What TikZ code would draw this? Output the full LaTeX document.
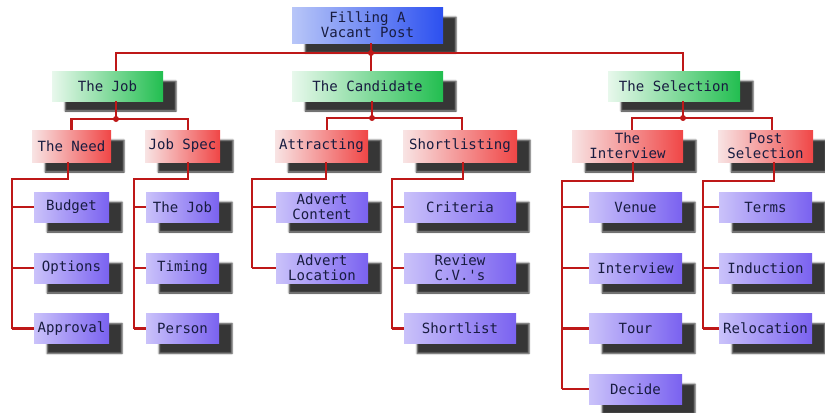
\documentclass[tikz,border=0pt]{standalone}
\usepackage{fontspec}
\setmonofont{DejaVu Sans Mono}
\usetikzlibrary{shadows.blur}

% colours of the boxes and links
\definecolor{rootL}{HTML}{B8C6F8}
\definecolor{rootR}{HTML}{2C50F0}
\definecolor{greenL}{HTML}{E8F8EC}
\definecolor{greenR}{HTML}{22BE50}
\definecolor{redL}{HTML}{F8E4E4}
\definecolor{redR}{HTML}{F04646}
\definecolor{lilacL}{HTML}{CAC2FA}
\definecolor{lilacR}{HTML}{7A62F0}
\definecolor{boxtext}{HTML}{181C40}
\definecolor{linkred}{HTML}{BE1818}

\def\px{0.3mm}   % one pixel of the reference

\tikzset{
  box/.style={rectangle, inner sep=0pt, align=center, text=boxtext,
    font=\ttfamily\fontsize{12}{12.8}\selectfont,
    blur shadow={shadow xshift=13*\px, shadow yshift=-10*\px, shadow blur radius=1.6*\px,
      shadow blur steps=4, shadow blur extra rounding=0pt, shadow opacity=79}},
  rootbox/.style={box, left color=rootL, right color=rootR, minimum height=36*\px},
  topic/.style={box, left color=greenL, right color=greenR, minimum height=30*\px},
  stage/.style={box, left color=redL, right color=redR, minimum height=32*\px},
  task/.style={box, left color=lilacL, right color=lilacR, minimum height=30*\px},
  link/.style={draw=linkred, line width=2.4pt},
  joint/.style={fill=linkred},
}

\begin{document}
\begin{tikzpicture}[x=\px, y=-\px]
\useasboundingbox (0,0) rectangle (825,412);

% Root and the three topics
\node[rootbox, minimum width=151*\px] (root) at (367.5,25) {Filling A\\Vacant Post};
\node[topic, minimum width=111*\px] (job)  at (107.5,86) {The Job};
\node[topic, minimum width=151*\px] (cand) at (367.5,86) {The Candidate};
\node[topic, minimum width=132*\px] (sel)  at (674,86)   {The Selection};

% Stages
\node[stage, minimum width=79*\px]  (need)  at (71.5,146)  {The Need};
\node[stage, minimum width=75*\px]  (spec)  at (182.5,146) {Job Spec};
\node[stage, minimum width=93*\px]  (attr)  at (321.5,146) {Attracting};
\node[stage, minimum width=114*\px] (short) at (460,146)   {Shortlisting};
\node[stage, minimum width=111*\px] (intv)  at (627.5,146) {The\\Interview};
\node[stage, minimum width=95*\px]  (post)  at (765.5,146) {Post\\Selection};

% Tasks
\node[task, minimum width=75*\px] (budget)   at (71.5,207)   {Budget};
\node[task, minimum width=75*\px] (options)  at (71.5,268)   {Options};
\node[task, minimum width=75*\px] (approval) at (71.5,328.5) {Approval};

\node[task, minimum width=73*\px] (jobb)   at (182.5,207)   {The Job};
\node[task, minimum width=73*\px] (timing) at (182.5,268)   {Timing};
\node[task, minimum width=73*\px] (person) at (182.5,328.5) {Person};

\node[task, minimum width=92*\px] (content)  at (322,207) {Advert\\Content};
\node[task, minimum width=92*\px] (location) at (322,268) {Advert\\Location};

\node[task, minimum width=112*\px] (criteria)  at (460,207)   {Criteria};
\node[task, minimum width=112*\px] (review)    at (460,268)   {Review\\C.V.'s};
\node[task, minimum width=112*\px] (shortlist) at (460,328.5) {Shortlist};

\node[task, minimum width=93*\px] (venue)     at (635.5,207)   {Venue};
\node[task, minimum width=93*\px] (interview) at (635.5,268)   {Interview};
\node[task, minimum width=93*\px] (tour)      at (635.5,328.5) {Tour};
\node[task, minimum width=93*\px] (decide)    at (635.5,389)   {Decide};

\node[task, minimum width=93*\px] (terms)      at (765.5,207)   {Terms};
\node[task, minimum width=93*\px] (induction)  at (765.5,268)   {Induction};
\node[task, minimum width=93*\px] (relocation) at (765.5,328.5) {Relocation};

% Junctions of the buses
\coordinate (b0) at (371,53);
\coordinate (b1) at (116,119);
\coordinate (b2) at (372,118);
\coordinate (b3) at (683,118);

% root -> topics
\draw[link] (root.south -| b0) -- (cand.north -| b0);
\draw[link] (job.north -| b1) |- (b0) -| (sel.north -| b3);

% topics -> stages
\draw[link] (job.south -| b1) -- (b1);
\draw[link] (need.north) |- (b1) -| (spec.north -| 188,0);
\draw[link] (cand.south -| b2) -- (b2);
\draw[link] (attr.north -| 327,0) |- (b2) -| (short.north -| 462,0);
\draw[link] (sel.south -| b3) -- (b3);
\draw[link] (intv.north -| 632,0) |- (b3) -| (post.north -| 772,0);

\foreach \j in {b0,b1,b2,b3}
  \fill[joint] (\j) circle (3);

% stages -> tasks
\coordinate (s1) at (12,179);
\coordinate (s2) at (134,179);
\coordinate (s3) at (252,179);
\coordinate (s4) at (392,179);
\coordinate (s5) at (562,181);
\coordinate (s6) at (703,181);

\draw[link] (need.south -| 68,0)   |- (s1) -- (s1 |- approval.west);
\draw[link] (spec.south -| 188,0)  |- (s2) -- (s2 |- person.west);
\draw[link] (attr.south -| 326,0)  |- (s3) -- (s3 |- location.west);
\draw[link] (short.south -| 463,0) |- (s4) -- (s4 |- shortlist.west);
\draw[link] (intv.south -| 633,0)  |- (s5) -- (s5 |- decide.west);
\draw[link] (post.south -| 774,0)  |- (s6) -- (s6 |- relocation.west);

\foreach \c/\s in {budget/s1,options/s1,approval/s1,jobb/s2,timing/s2,person/s2,
    content/s3,location/s3,criteria/s4,review/s4,shortlist/s4,
    venue/s5,interview/s5,tour/s5,decide/s5,terms/s6,induction/s6,relocation/s6}
  \draw[link] (\c.west) -- (\c.west -| \s);

\end{tikzpicture}
\end{document}
